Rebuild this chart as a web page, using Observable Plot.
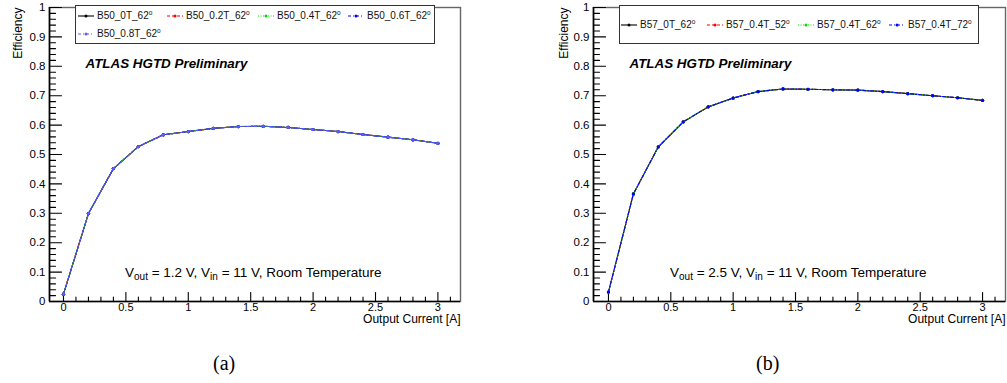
<!DOCTYPE html>
<html><head><meta charset="utf-8">
<script src="https://cdn.jsdelivr.net/npm/d3@7"></script>
<script src="https://cdn.jsdelivr.net/npm/@observablehq/plot@0.6"></script>
<style>
body{margin:0;background:#fff;font-family:"Liberation Sans",Arial,Helvetica,sans-serif;}
#wrap{position:relative;width:1007px;height:383px;overflow:hidden;background:#fff;}
#wrap svg.panel{position:absolute;top:0;}
.abs{position:absolute;white-space:nowrap;line-height:1;color:#000;}
.legend{position:absolute;border:1px solid #333;background:#fff;box-sizing:border-box;}
.entry{position:absolute;white-space:nowrap;font-size:10px;line-height:1;color:#111;}
.entry sup{font-size:6.5px;vertical-align:4px;line-height:0;}
.ann{font-size:13.5px;}
.ann sub{font-size:10px;vertical-align:-3px;line-height:0;}
.cap{font-family:"Liberation Serif","Times New Roman",serif;font-size:20px;}
</style></head><body><div id="wrap"></div>
<script>
// ---- data ----
const current = [0,0.2,0.4,0.6,0.8,1.0,1.2,1.4,1.6,1.8,2.0,2.2,2.4,2.6,2.8,3.0];
// panel (a): all five B50 series overlap on the same curve
const effB50 = [0.025,0.299,0.452,0.527,0.567,0.578,0.589,0.595,0.596,0.592,0.585,0.578,0.568,0.559,0.550,0.538];
// panel (b): all four B57 series overlap on the same curve
const effB57 = [0.032,0.366,0.526,0.611,0.662,0.692,0.714,0.723,0.722,0.720,0.719,0.714,0.707,0.700,0.693,0.684];
const seriesB50 = ["B50_0T_62","B50_0.2T_62","B50_0.4T_62","B50_0.6T_62","B50_0.8T_62"];
const seriesB57 = ["B57_0T_62","B57_0.4T_52","B57_0.4T_62","B57_0.4T_72"];
const yTicks = [0,0.1,0.2,0.3,0.4,0.5,0.6,0.7,0.8,0.9,1];
const yTickLabels = ["0","0.1","0.2","0.3","0.4","0.5","0.6","0.7","0.8","0.9","1"];
const xTicks = [0,0.5,1,1.5,2,2.5,3];
const xTickLabels = ["0","0.5","1","1.5","2","2.5","3"];
const yTitle = "Efficiency";
const xTitle = "Output Current [A]";
const atlasLabel = "ATLAS HGTD Preliminary";

// ---- styles ----
const colorsB50 = ["#000000","#ff0000","#00dd00","#0000ff","#5c5cff"];
const dashB50 = [null,"3,2","1,1.5","3,2,1,2","3,2,1,2"];
const colorsB57 = ["#000000","#ff0000","#00dd00","#0000ff"];
const dashB57 = [null,"3,2","1,1.5","3,2,1,2"];

const yMinor = d3.range(0, 50).map(i => i * 0.02).filter((v, i) => i % 5 !== 0);
const xMinor = d3.range(1, 32).map(i => i * 0.1).filter((v, i) => (i + 1) % 5 !== 0);

// plain tick stroke (no arrow head)
const tickShape = {draw(context, l) { context.moveTo(0, 0); context.lineTo(0, -l); }};

const wrap = document.getElementById("wrap");

function panel({left, width, mL, mR, xDomain, values, names, colors, dashes, effDx}) {
  const pts = current.map((x, i) => ({x, y: values[i]}));
  const tk = {shape: tickShape, anchor: "start", stroke: "#000", strokeWidth: 1.1};
  const marks = [
    Plot.frame({stroke: "#666", strokeWidth: 1.4}),
    Plot.axisY(yTicks, {tickSize: 0, tickPadding: 4, tickFormat: d => yTickLabels[yTicks.indexOf(d)], label: null, fontSize: 11.5}),
    Plot.axisX(xTicks, {tickSize: 0, tickPadding: 2, tickFormat: d => xTickLabels[xTicks.indexOf(d)], label: null, fontSize: 11}),
    Plot.vector(yTicks, {y: d => d, frameAnchor: "left", rotate: 90, length: 12, ...tk}),
    Plot.vector(yMinor, {y: d => d, frameAnchor: "left", rotate: 90, length: 6, ...tk}),
    Plot.vector(xTicks, {x: d => d, frameAnchor: "bottom", rotate: 0, length: 9, ...tk}),
    Plot.vector(xMinor, {x: d => d, frameAnchor: "bottom", rotate: 0, length: 4.5, ...tk}),
    Plot.ruleX([xDomain[0]], {stroke: "#000", strokeWidth: 1.6}),
    Plot.ruleY([0], {stroke: "#000", strokeWidth: 1.6}),
    Plot.text([yTitle], {frameAnchor: "top-left", rotate: -90, textAnchor: "end", dx: effDx, dy: 0, fontSize: 12, fill: "#000"}),
    Plot.text([xTitle], {frameAnchor: "bottom-right", textAnchor: "end", dy: 21, fontSize: 12, fill: "#000"}),
    Plot.text([atlasLabel], {frameAnchor: "top-left", textAnchor: "start", dx: 36, dy: 51, fontSize: 13.4, fontWeight: "bold", fontStyle: "italic", fill: "#000"})
  ];
  names.forEach((n, i) => {
    marks.push(Plot.line(pts, {x: "x", y: "y", stroke: colors[i], strokeWidth: 1.1, strokeDasharray: dashes[i]}));
    marks.push(Plot.dot(pts, {x: "x", y: "y", r: 1.6, fill: colors[i], stroke: null}));
  });
  const svg = Plot.plot({
    width, height: 330, marginLeft: mL, marginRight: mR, marginTop: 7, marginBottom: 29,
    x: {domain: xDomain}, y: {domain: [0, 1]},
    style: {fontFamily: "Liberation Sans, Arial, sans-serif", fontSize: "11px", background: "transparent", overflow: "visible", color: "#000"},
    marks
  });
  svg.classList.add("panel");
  svg.style.left = left + "px";
  wrap.appendChild(svg);
}

panel({left: 0, width: 500, mL: 49, mR: 40, xDomain: [-0.112, 3.181], values: effB50, names: seriesB50, colors: colorsB50, dashes: dashB50, effDx: -36});
panel({left: 540, width: 467, mL: 53, mR: 2, xDomain: [-0.12, 3.184], values: effB57, names: seriesB57, colors: colorsB57, dashes: dashB57, effDx: -34});

// ---- legends ----
function legend(box, entries) {
  const lg = document.createElement("div");
  lg.className = "legend";
  Object.assign(lg.style, {left: box.x + "px", top: box.y + "px", width: box.w + "px", height: box.h + "px"});
  wrap.appendChild(lg);
  entries.forEach(e => {
    const d = document.createElement("div");
    d.className = "entry";
    d.style.left = e.tx + "px";
    d.style.top = (e.cy - 5) + "px";
    d.innerHTML = e.name + "<sup>o</sup>";
    wrap.appendChild(d);
    const s = document.createElementNS("http://www.w3.org/2000/svg", "svg");
    s.setAttribute("width", 18); s.setAttribute("height", 6);
    s.style.position = "absolute";
    s.style.left = (e.tx - 20) + "px";
    s.style.top = (e.cy - 3) + "px";
    s.innerHTML = `<line x1="1" y1="3" x2="17" y2="3" stroke="${e.color}" stroke-width="1.1" ${e.dash ? `stroke-dasharray="${e.dash}"` : ""}/><circle cx="9" cy="3" r="1.5" fill="${e.color}"/>`;
    wrap.appendChild(s);
  });
}
legend({x: 75, y: 5, w: 360, h: 39}, [
  {name: seriesB50[0], tx: 97, cy: 16, color: colorsB50[0], dash: dashB50[0]},
  {name: seriesB50[1], tx: 186, cy: 16, color: colorsB50[1], dash: dashB50[1]},
  {name: seriesB50[2], tx: 277, cy: 16, color: colorsB50[2], dash: dashB50[2]},
  {name: seriesB50[3], tx: 367, cy: 16, color: colorsB50[3], dash: dashB50[3]},
  {name: seriesB50[4], tx: 97, cy: 34, color: colorsB50[4], dash: dashB50[4]}
]);
legend({x: 619, y: 5, w: 360, h: 39}, [
  {name: seriesB57[0], tx: 640, cy: 25, color: colorsB57[0], dash: dashB57[0]},
  {name: seriesB57[1], tx: 726, cy: 25, color: colorsB57[1], dash: dashB57[1]},
  {name: seriesB57[2], tx: 817, cy: 25, color: colorsB57[2], dash: dashB57[2]},
  {name: seriesB57[3], tx: 908, cy: 25, color: colorsB57[3], dash: dashB57[3]}
]);

// ---- annotations and captions ----
function addDiv(cls, html, x, y) {
  const d = document.createElement("div");
  d.className = "abs " + cls;
  d.innerHTML = html;
  d.style.left = x + "px"; d.style.top = y + "px";
  wrap.appendChild(d);
  return d;
}
addDiv("ann", "V<sub>out</sub> = 1.2 V, V<sub>in</sub> = 11 V, Room Temperature", 125, 266);
addDiv("ann", "V<sub>out</sub> = 2.5 V, V<sub>in</sub> = 11 V, Room Temperature", 670, 266);
addDiv("cap", "(a)", 213, 353);
addDiv("cap", "(b)", 756, 353);
</script></body></html>
